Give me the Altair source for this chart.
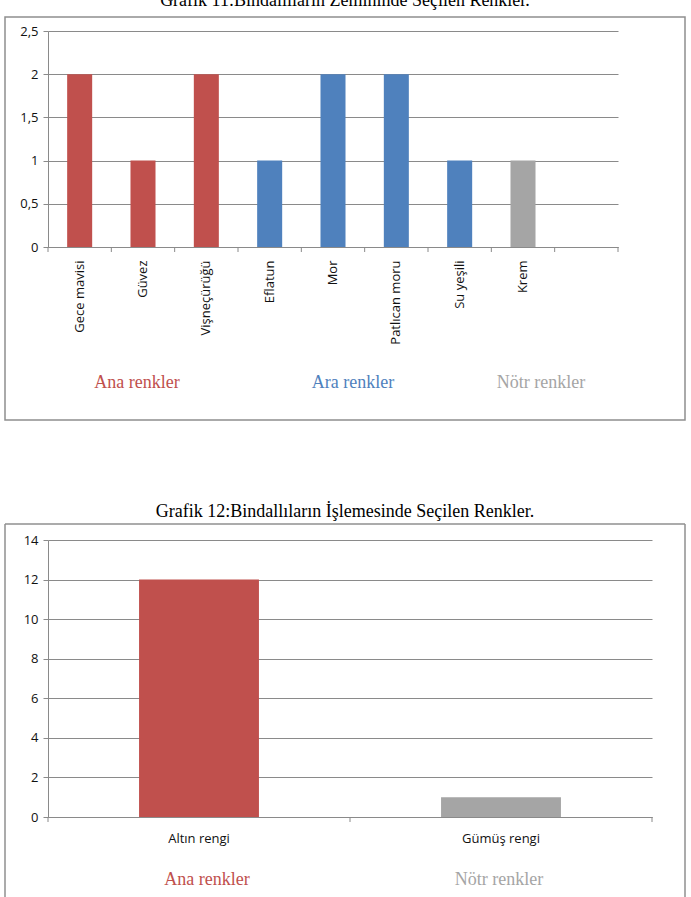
import altair as alt
import pandas as pd

# ---------------- data ----------------
cats1 = ["Gece mavisi", "Güvez", "Vişneçürüğü", "Eflatun", "Mor",
         "Patlıcan moru", "Su yeşili", "Krem", " "]
vals1 = [2, 1, 2, 1, 2, 2, 1, 1]
grp1 = ["Ana renkler", "Ana renkler", "Ana renkler",
        "Ara renkler", "Ara renkler", "Ara renkler", "Ara renkler",
        "Nötr renkler"]
yticks1 = [0, 0.5, 1, 1.5, 2, 2.5]

cats2 = ["Altın rengi", "Gümüş rengi"]
vals2 = [12, 1]
grp2 = ["Ana renkler", "Nötr renkler"]
yticks2 = [0, 2, 4, 6, 8, 10, 12, 14]

groups = ["Ana renkler", "Ara renkler", "Nötr renkler"]
colors = ["#C0504D", "#4F81BD", "#A5A5A5"]

title1 = "Grafik 11:Bindallıların Zemininde Seçilen Renkler."
title2 = "Grafik 12:Bindallıların İşlemesinde Seçilen Renkler."

# ---------------- layout constants ----------------
W1, H1 = 570, 247
W2, H2 = 604, 277
GRID = "#8a8a8a"
BOX = "#8f8f8f"
SANS = "Open Sans"
SERIF = "Liberation Serif"

one = pd.DataFrame({"k": [0]})
color_scale = alt.Scale(domain=groups, range=colors)


def txt(text, x, y, color, baseline="middle", clip=False):
    return alt.Chart(one).mark_text(
        text=text, font=SERIF, fontSize=18, color=color,
        align="center", baseline=baseline, clip=clip
    ).encode(x=alt.value(x), y=alt.value(y))


def vrule(x, y, y2, color=BOX, w=1.5):
    return alt.Chart(one).mark_rule(color=color, strokeWidth=w).encode(
        x=alt.value(x), y=alt.value(y), y2=alt.value(y2))


def hrule(y, x, x2, color=BOX, w=1.5):
    return alt.Chart(one).mark_rule(color=color, strokeWidth=w).encode(
        y=alt.value(y), x=alt.value(x), x2=alt.value(x2))


# ---------------- top chart ----------------
df1 = pd.DataFrame({"cat": cats1[:len(vals1)], "val": vals1, "grp": grp1})
dft1 = pd.DataFrame({"cat": cats1})

xaxis1 = alt.Axis(title=None, labelAngle=-90, ticks=False, labelPadding=13,
                  labelFont=SANS, labelFontSize=13, labelColor="#111",
                  domainColor=GRID, grid=False)
xscale1 = alt.Scale(domain=cats1, paddingInner=0, paddingOuter=0)
yscale1 = alt.Scale(domain=[0, 2.5], range=[247, 31], nice=False, zero=True)
yaxis1 = alt.Axis(title=None, values=yticks1, format="~g",
                  labelExpr="replace(datum.label, '.', ',')",
                  grid=True, gridColor=GRID, domainColor=GRID, tickColor=GRID,
                  tickSize=5, labelPadding=5, labelFont=SANS, labelFontSize=13,
                  labelColor="#111")

# invisible page anchor (fixes the page origin for the layout)
anchor = alt.Chart(one).mark_rect(fill="white", opacity=0).encode(
    x=alt.value(-48), x2=alt.value(643), y=alt.value(0), y2=alt.value(897))
box1 = alt.Chart(one).mark_rect(fillOpacity=0, stroke=BOX, strokeWidth=1.5).encode(
    x=alt.value(-43), x2=alt.value(637), y=alt.value(17), y2=alt.value(420))

bars1 = alt.Chart(df1).mark_bar(width=alt.RelativeBandSize(0.395)).encode(
    x=alt.X("cat:N", scale=xscale1, axis=xaxis1, sort=cats1),
    y=alt.Y("val:Q", scale=yscale1, axis=yaxis1),
    color=alt.Color("grp:N", scale=color_scale, legend=None),
)
ticks1 = alt.Chart(dft1).mark_rule(color=GRID).encode(
    x=alt.X("cat:N", scale=xscale1, axis=xaxis1, sort=cats1, bandPosition=0),
    y=alt.value(H1), y2=alt.value(H1 + 5),
)
lasttick1 = vrule(W1, H1, H1 + 5, color=GRID, w=1)

top = alt.layer(
    anchor, box1, bars1, ticks1, lasttick1,
    txt(title1, 297, 6, "black", baseline="alphabetic", clip=True),
    txt(groups[0], 89, 383, colors[0]),
    txt(groups[1], 305, 383, colors[1]),
    txt(groups[2], 493, 383, colors[2]),
).properties(width=W1, height=H1)

# ---------------- bottom chart ----------------
df2 = pd.DataFrame({"cat": cats2, "val": vals2, "grp": grp2})
dft2 = pd.DataFrame({"cat": cats2})

xaxis2 = alt.Axis(title=None, labelAngle=0, ticks=False, labelPadding=15,
                  labelFont=SANS, labelFontSize=13, labelColor="#111",
                  domainColor=GRID, grid=False)
xscale2 = alt.Scale(domain=cats2, paddingInner=0, paddingOuter=0)
yscale2 = alt.Scale(domain=[0, 14], nice=False, zero=True)
yaxis2 = alt.Axis(title=None, values=yticks2, format="d",
                  grid=True, gridColor=GRID, domainColor=GRID, tickColor=GRID,
                  tickSize=5, labelPadding=5, labelFont=SANS, labelFontSize=13,
                  labelColor="#111")

bars2 = alt.Chart(df2).mark_bar(width=alt.RelativeBandSize(0.397)).encode(
    x=alt.X("cat:N", scale=xscale2, axis=xaxis2, sort=cats2),
    y=alt.Y("val:Q", scale=yscale2, axis=yaxis2),
    color=alt.Color("grp:N", scale=color_scale, legend=None),
)
ticks2 = alt.Chart(dft2).mark_rule(color=GRID).encode(
    x=alt.X("cat:N", scale=xscale2, axis=xaxis2, sort=cats2, bandPosition=0),
    y=alt.value(H2), y2=alt.value(H2 + 5),
)
lasttick2 = vrule(W2, H2, H2 + 5, color=GRID, w=1)

bottom = alt.layer(
    vrule(-43, -16, 357), hrule(-16, -43, 637), vrule(637, -16, 357),
    bars2, ticks2, lasttick2,
    txt(title2, 297, -28, "black"),
    txt(grp2[0], 159, 340, colors[0]),
    txt(grp2[1], 451, 340, colors[2]),
).properties(width=W2, height=H2)

chart = alt.vconcat(top, bottom, spacing=293, bounds="flush").properties(
    padding=0, background="white"
).configure_view(strokeWidth=0)

chart.save("out.html", embed_options={"renderer": "svg", "actions": False})
